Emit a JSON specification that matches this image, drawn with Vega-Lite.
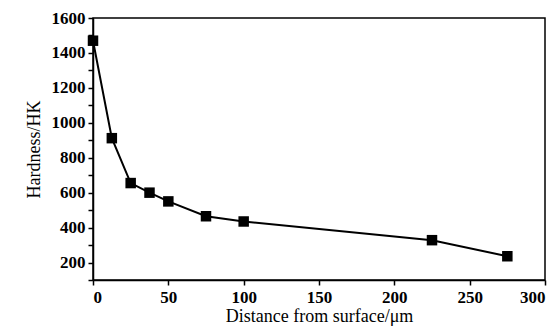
{
  "$schema": "https://vega.github.io/schema/vega-lite/v6.json",
  "width": 452,
  "height": 262,
  "autosize": {"type": "none"},
  "padding": {"left": 93, "top": 18, "right": 15, "bottom": 55},
  "background": "white",
  "config": {
    "view": {"stroke": "black", "strokeWidth": 1.5},
    "font": "Liberation Serif"
  },
  "data": {
    "values": [
      {"d": 0, "h": 1470},
      {"d": 12.5, "h": 912},
      {"d": 25, "h": 655},
      {"d": 37.5, "h": 600},
      {"d": 50, "h": 550},
      {"d": 75, "h": 465},
      {"d": 100, "h": 435},
      {"d": 225, "h": 328},
      {"d": 275, "h": 236}
    ]
  },
  "encoding": {
    "x": {
      "field": "d",
      "type": "quantitative",
      "scale": {"domain": [0, 300], "nice": false, "zero": false},
      "axis": {
        "values": [0, 50, 100, 150, 200, 250, 300],
        "format": "d",
        "title": "Distance from surface/μm",
        "titlePadding": 2,
        "labelPadding": 4,
        "grid": false,
        "domainColor": "black", "domainWidth": 1.5,
        "tickColor": "black", "tickWidth": 1.5, "tickSize": 5,
        "labelColor": "black", "labelFont": "Liberation Serif", "labelFontSize": 17, "labelFontWeight": "bold",
        "titleColor": "black", "titleFont": "Liberation Serif", "titleFontSize": 18, "titleFontWeight": "normal"
      }
    },
    "y": {
      "field": "h",
      "type": "quantitative",
      "scale": {"domain": [100, 1600], "nice": false, "zero": false},
      "axis": {
        "values": [100, 200, 300, 400, 500, 600, 700, 800, 900, 1000, 1100, 1200, 1300, 1400, 1500, 1600],
        "format": "d",
        "labelExpr": "datum.value % 200 === 0 ? datum.label : ''",
        "title": "Hardness/HK",
        "titlePadding": 8,
        "labelPadding": 3,
        "grid": false,
        "domainColor": "black", "domainWidth": 1.5,
        "tickColor": "black", "tickWidth": 1.5, "tickSize": 5,
        "labelColor": "black", "labelFont": "Liberation Serif", "labelFontSize": 17, "labelFontWeight": "bold",
        "titleColor": "black", "titleFont": "Liberation Serif", "titleFontSize": 18, "titleFontWeight": "normal"
      }
    }
  },
  "layer": [
    {"mark": {"type": "line", "color": "black", "strokeWidth": 2}},
    {"mark": {"type": "point", "shape": "square", "filled": true, "color": "black", "opacity": 1, "size": 110}}
  ]
}
